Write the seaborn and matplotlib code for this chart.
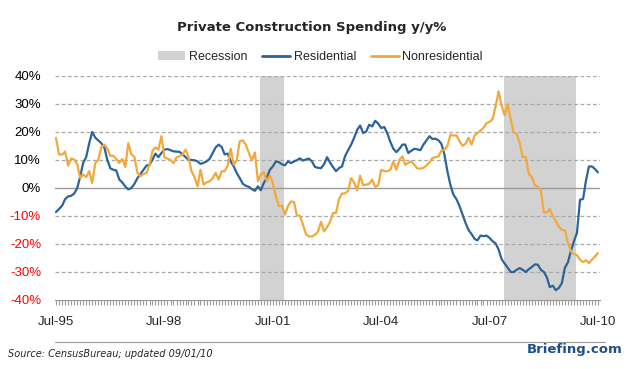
import pandas as pd
import matplotlib
matplotlib.use("Agg")
import matplotlib.pyplot as plt
import matplotlib.dates as mdates
from matplotlib.patches import Patch
from matplotlib.lines import Line2D
import seaborn as sns

# monthly y/y % change, Jul-95 .. Jul-10
start_month = "1995-07-01"
residential = [
    -8.6, -7.5, -6.3, -4, -3, -2.8, -2, 0, 4, 9,
    11, 16, 20, 18, 17, 16, 14.5, 10, 7, 6.5,
    6.3, 3, 2, 0.5, -0.5, 0, 1.5, 3.5, 5, 6.5,
    8, 8.3, 10, 12.3, 11, 12.5, 13.7, 13.9, 13.5, 13.1,
    13, 12.9, 12, 11, 10.1, 10, 9.9, 9.5, 8.6, 9,
    9.5, 10.4, 12.5, 14.5, 15.5, 14.6, 12, 12.3, 9.5, 7.7,
    5.4, 3.5, 1.5, 0.8, 0.4, -0.4, -1, 0.6, -0.8, 1.8,
    3.6, 6.5, 7.7, 9.5, 9.2, 8.5, 8.1, 9.5, 8.9, 9.5,
    9.9, 10.6, 9.8, 10.2, 10.5, 9.5, 7.5, 7.2, 7.1, 8.5,
    11, 9, 7.5, 6, 7.1, 7.7, 11.3, 13.5, 15.5, 17.9,
    20.8, 22.3, 19.6, 20.2, 22.6, 22, 24, 23, 21.4, 21.8,
    19.5, 16.5, 14, 12.8, 14, 15.5, 15.5, 12.5, 13.3, 14,
    13.8, 13.5, 15.5, 17, 18.5, 17.5, 17.6, 17, 15.8, 12,
    6, 1, -2.4, -4, -6.5, -9.5, -12.5, -15, -16.5, -18.2,
    -18.7, -17, -17.2, -17, -17.8, -19, -19.8, -22, -25.5, -27,
    -28.5, -30, -30, -29.2, -28.6, -29.2, -30, -29, -28.2, -27.3,
    -27.4, -29.2, -30, -32, -35.4, -34.9, -36.5, -35.7, -34, -28.5,
    -26.5, -22.5, -19, -16, -4.2, -3.9, 2.4, 7.7, 7.7, 6.8, 5.6,
]
nonresidential = [
    17.9, 12, 11.9, 13, 8, 10.5, 10.2, 8.5, 3.6, 4.8,
    3.9, 6, 1.8, 8.9, 10.1, 14.6, 15.5, 14, 11.5, 11.5,
    10.4, 8.9, 10.4, 7.5, 16, 12, 11.1, 5.4, 4.2, 5,
    5.4, 8.3, 13.1, 14.5, 13.7, 18.5, 11, 10.5, 10, 8.9,
    11, 11.3, 12, 13.7, 11.1, 6, 3.9, 0.6, 6.5, 1.2,
    2, 2.4, 3.5, 5.4, 3, 6, 6, 8, 14, 8.3,
    10, 16.7, 17, 15.5, 12.5, 9.9, 12.7, 2.4, 4.8, 5.6,
    2.4, 4.5, 1.8, -3, -6.5, -6.3, -9.5, -6.5, -4.8, -5,
    -9.8, -9.9, -13, -16.5, -17.3, -17.3, -16.7, -15.5, -12.1, -15.5,
    -14, -12, -9, -8.9, -4, -2, -1.9, -1, 3.5, 2,
    -0.8, 4.4, 1, 1.2, 1.5, 3, 0.4, 1, 6.5, 6,
    6, 6.5, 9.5, 6.5, 10.1, 11.3, 8.3, 9, 9.5, 8.3,
    7, 6.9, 7.2, 8, 9.2, 10.7, 11, 11.3, 13.3, 13.7,
    15, 19, 18.7, 18.8, 16.7, 15.1, 15.8, 17.9, 15.5, 18.8,
    19.6, 20.5, 21.5, 23.2, 23.6, 24.6, 29.2, 34.5, 29.2, 26,
    29.8, 24.4, 19.9, 19.3, 16.1, 11, 11.1, 5, 3.9, 1,
    0.4, -1, -8.7, -8.7, -7.5, -10, -11.9, -13.7, -15, -15.1,
    -19.6, -22.6, -23.5, -24, -25.6, -26.5, -25.8, -26.8, -25.6, -24.5, -23.2,
]
recessions = [("2001-02-25", "2001-10-22"), ("2007-11-25", "2009-11-25")]
series_names = ["Residential", "Nonresidential"]
series_colors = ["#2c6499", "#f2a93b"]
y_ticks = [-40, -30, -20, -10, 0, 10, 20, 30, 40]

dates = pd.date_range(start_month, periods=len(residential), freq="MS")
df = pd.concat([
    pd.DataFrame({"date": dates, "value": residential, "series": "Residential"}),
    pd.DataFrame({"date": dates, "value": nonresidential, "series": "Nonresidential"}),
])

sns.set_style("white")
plt.rcParams["font.family"] = ["Liberation Sans", "DejaVu Sans"]

fig = plt.figure(figsize=(6.28, 3.69), dpi=100)
ax = fig.add_axes([55 / 628, 1 - 300 / 369, 545 / 628, 224 / 369])

for r0, r1 in recessions:
    ax.axvspan(pd.Timestamp(r0), pd.Timestamp(r1), color="#d2d2d2", lw=0, zorder=0)

for yv in y_ticks:
    if yv == 0:
        ax.axhline(yv, color="#9a9a9a", lw=1.0, zorder=1)
    elif yv != -40:
        ax.axhline(yv, color="#a8a8a8", lw=0.9, ls=(0, (3, 2)), zorder=1)

sns.lineplot(data=df, x="date", y="value", hue="series", hue_order=series_names,
             palette=series_colors, linewidth=1.6, legend=False, ax=ax, zorder=3)

ax.set_xlim(pd.Timestamp("1995-06-21"), pd.Timestamp("2010-07-22"))
ax.set_ylim(-40, 40)
ax.set_yticks(y_ticks)
ax.set_yticklabels([f"{v}%" for v in y_ticks])
for lbl, v in zip(ax.get_yticklabels(), y_ticks):
    lbl.set_color("red" if v < 0 else "black")

ax.xaxis.set_major_locator(mdates.YearLocator(3, month=7))
ax.xaxis.set_major_formatter(mdates.DateFormatter("%b-%y"))
ax.xaxis.set_minor_locator(mdates.MonthLocator())
ax.tick_params(axis="x", which="both", direction="out", length=3.5, width=0.8,
               color="#9a9a9a", labelsize=9.5, pad=8, bottom=True)
ax.tick_params(axis="y", length=0, labelsize=9.5, pad=10)
ax.set_xlabel("")
ax.set_ylabel("")

for s in ["top", "right", "left"]:
    ax.spines[s].set_visible(False)
ax.spines["bottom"].set_color("#9a9a9a")
ax.spines["bottom"].set_linewidth(0.8)

fig.text(0.497, 1 - 27 / 369, "Private Construction Spending y/y%", ha="center", va="center",
         fontsize=9.5, fontweight="bold", family="DejaVu Sans")

handles = [Patch(facecolor="#d2d2d2", edgecolor="none"),
           Line2D([], [], color=series_colors[0], lw=2),
           Line2D([], [], color=series_colors[1], lw=2)]
fig.legend(handles, ["Recession"] + series_names, loc="center", ncol=3,
           bbox_to_anchor=(0.51, 1 - 57 / 369), frameon=False, fontsize=9,
           handlelength=2.2, handletextpad=0.3, columnspacing=1.2)

fig.add_artist(Line2D([55 / 628, 605 / 628], [1 - 342 / 369] * 2,
                      transform=fig.transFigure, color="#9a9a9a", lw=0.8))
fig.text(8 / 628, 1 - 354 / 369, "Source: CensusBureau; updated 09/01/10", ha="left",
         va="center", fontsize=7, style="italic", family="DejaVu Sans")
fig.text(622 / 628, 1 - 350 / 369, "Briefing.com", ha="right", va="center",
         fontsize=9.5, fontweight="bold", color="#1f4f8a", family="DejaVu Sans")

fig.savefig("out.png", dpi=100)
